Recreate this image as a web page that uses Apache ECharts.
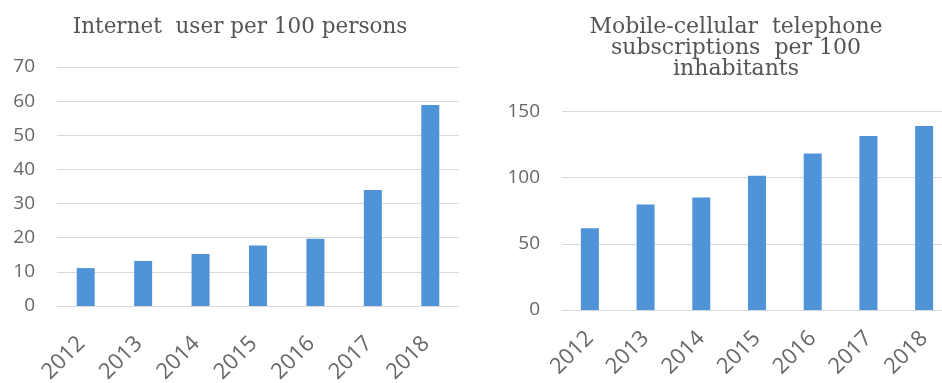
<!DOCTYPE html>
<html><head><meta charset="utf-8">
<script src="https://cdn.jsdelivr.net/npm/echarts@6/dist/echarts.min.js"></script>
<style>html,body{margin:0;padding:0;background:#fff}#c{width:942px;height:383px}</style>
</head><body><div id="c"></div>
<script>
const years = ['2012','2013','2014','2015','2016','2017','2018'];
const internetUsers = [11.1, 13.2, 15.2, 17.7, 19.7, 34.0, 58.9];
const mobileSubs = [61.7, 79.8, 85.1, 101.4, 118.3, 131.4, 139.0];
const leftTicks = {min: 0, max: 70, interval: 10};
const rightTicks = {min: 0, max: 150, interval: 50};
const leftTitle = 'Internet  user per 100 persons';
const rightTitle = 'Mobile-cellular  telephone\nsubscriptions  per 100\ninhabitants';

const barColor = '#4f93d8';
const labelColor = '#666666';
const gridColor = '#d9d9d9';
const chart = echarts.init(document.getElementById('c'), null, {renderer: 'canvas'});
function xAx(idx, margin, padRight){
  return {type:'category', gridIndex: idx, data: years,
    axisLine:{show:false}, axisTick:{show:false},
    axisLabel:{rotate:45, color:labelColor, fontFamily:'Open Sans', fontSize:22, margin:margin,
      padding:[0, padRight, 0, 0]}};
}
function yAx(idx, t, margin){
  return {type:'value', gridIndex: idx, min:t.min, max:t.max, interval:t.interval,
    axisLine:{show:false}, axisTick:{show:false},
    splitLine:{lineStyle:{color:gridColor, width:1}},
    axisLabel:{color:labelColor, fontFamily:'Open Sans', fontSize:19, margin:margin}};
}
chart.setOption({
  animation:false,
  title:[
    {text:leftTitle, left:235, top:11, textAlign:'center',
     textStyle:{fontFamily:'DejaVu Serif', fontWeight:'normal', fontSize:21.5, color:'#555'}},
    {text:rightTitle, left:731, top:12, textAlign:'center',
     textStyle:{fontFamily:'DejaVu Serif', fontWeight:'normal', fontSize:22, color:'#555', lineHeight:21}}
  ],
  grid:[
    {left:57, top:67, width:402, height:239, containLabel:false, outerBoundsMode:'none'},
    {left:562, top:111.5, width:390, height:198.5, containLabel:false, outerBoundsMode:'none'}
  ],
  xAxis:[xAx(0, 30, 6), xAx(1, 25, 0)],
  yAxis:[yAx(0, leftTicks, 22), yAx(1, rightTicks, 22)],
  series:[
    {type:'bar', xAxisIndex:0, yAxisIndex:0, data:internetUsers, barWidth:18, itemStyle:{color:barColor}},
    {type:'bar', xAxisIndex:1, yAxisIndex:1, data:mobileSubs, barWidth:18, itemStyle:{color:barColor}}
  ]
});
</script></body></html>
